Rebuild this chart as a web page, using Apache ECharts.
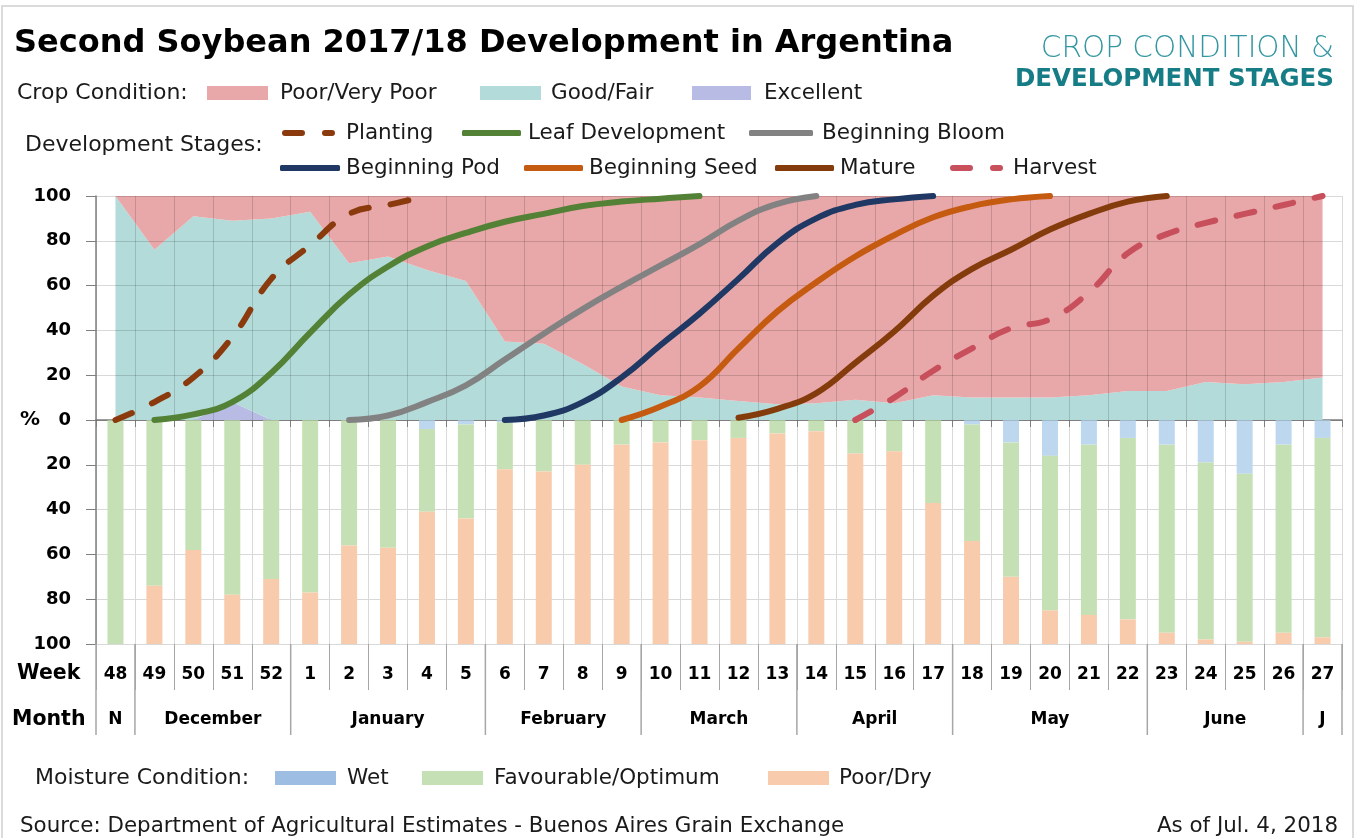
<!DOCTYPE html>
<html><head><meta charset="utf-8">
<script src="https://cdn.jsdelivr.net/npm/echarts@6/dist/echarts.min.js"></script>
<style>html,body{margin:0;padding:0;background:#fff}#c{width:1361px;height:838px}</style>
</head><body><div id="c"></div>
<script>
// ---------------- DATA ----------------
const weeks = ['48','49','50','51','52','1','2','3','4','5','6','7','8','9','10','11','12','13','14','15','16','17','18','19','20','21','22','23','24','25','26','27'];
const monthLabels = ['N','December','January','February','March','April','May','June','J'];
const monthSpans = [1,4,5,4,4,4,5,4,1];

// Crop condition (%), stacked: excellent + good/fair + poor/very poor = 100
const excellent   = [0,0,0,8,0,0,0,0,0,0,0,0,0,0,0,0,0,0,0,0,0,0,0,0,0,0,0,0,0,0,0,0];
const goodFair    = [100,76,91,81,90,93,70,73,67,62,35,34,25,15,11,10,8.5,7,7.5,9,7.5,11,10,10,10,11,13,13,17,16,17,19];
const poorVeryPoor= [0,24,9,11,10,7,30,27,33,38,65,66,75,85,89,90,91.5,93,92.5,91,92.5,89,90,90,90,89,87,87,83,84,83,81];

// Development stages (% cumulative)
const N = null;
const planting  = [0,8,19,37,63,78,92,96,100,N,N,N,N,N,N,N,N,N,N,N,N,N,N,N,N,N,N,N,N,N,N,N];
const leafDev   = [N,0,2.5,8,21,39,56,68.5,77.5,83.5,88.5,92,95.5,97.5,98.8,100,N,N,N,N,N,N,N,N,N,N,N,N,N,N,N,N];
const begBloom  = [N,N,N,N,N,N,0,2,8,15.5,27,38.5,49.5,59.5,69,78.5,89,96.5,100,N,N,N,N,N,N,N,N,N,N,N,N,N];
const begPod    = [N,N,N,N,N,N,N,N,N,N,0,2,8,19,33.5,47.5,63,79,90,96,98.5,100,N,N,N,N,N,N,N,N,N,N];
const begSeed   = [N,N,N,N,N,N,N,N,N,N,N,N,N,0,6,15,32,48.5,61.5,73,82.5,90.5,95.5,98.5,100,N,N,N,N,N,N,N];
const mature    = [N,N,N,N,N,N,N,N,N,N,N,N,N,N,N,N,1,5,12,25.5,39.5,55.5,67.5,76,85,92,97.5,100,N,N,N,N];
const harvest   = [N,N,N,N,N,N,N,N,N,N,N,N,N,N,N,N,N,N,N,0,10,22,32,41,45,57,74.5,83,88,92,96,100];

// Moisture condition (%)
const wet       = [0,0,0,0,0,0,0,0,4,2,1,0,0,0,0,0,0,0,0,0,0,0,2,10,16,11,8,11,19,24,11,8];
const favOpt    = [100,74,58,78,71,77,56,57,37,42,21,23,20,11,10,9,8,6,5,15,14,37,52,60,69,76,81,84,79,75,84,89];
const poorDry   = [0,26,42,22,29,23,44,43,59,56,78,77,80,89,90,91,92,94,95,85,86,63,46,30,15,13,11,5,2,1,5,3];

// ---------------- CHART ----------------
const FONT = 'DejaVu Sans';
const TXT = '#1a1a1a';
const chart = echarts.init(document.getElementById('c'), null, {renderer:'canvas'});

const DASH_ICON = 'path://M3,0H20A3,3 0 0 1 20,6H3A3,3 0 0 1 3,0Z M43,0H50A3,3 0 0 1 50,6H43A3,3 0 0 1 43,0Z';

function lg(name, left, top, w, pad, icon, h, extra) {
  return {
    data:[extra ? Object.assign({name:name}, extra) : name],
    left:left, top:top, itemWidth:w, itemHeight:h || 14, padding:0, selectedMode:false,
    icon:icon,
    textStyle:{fontFamily:FONT, fontSize:21.5, color:TXT, padding:[0,0,0,pad]}
  };
}

function areaS(name, data, color) {
  return {name:name, type:'line', xAxisIndex:0, yAxisIndex:0, stack:'crop', data:data,
    symbol:'none', color:color, lineStyle:{width:0}, areaStyle:{color:color, opacity:1}, z:1, silent:true};
}
function devS(name, data, color, dashed) {
  return {name:name, type:'line', xAxisIndex:0, yAxisIndex:0, data:data, symbol:'none',
    smooth:0.45, connectNulls:false, color:color,
    lineStyle:{color:color, width:6, type: dashed ? [18,22] : 'solid', cap:'round', join:'round'}, z:4, silent:true};
}
function barS(name, data, color) {
  return {name:name, type:'bar', xAxisIndex:1, yAxisIndex:1, stack:'moist', data:data,
    barWidth:16, color:color, itemStyle:{color:color}, silent:true};
}

const C = {
  poor:'#E8A7A8', good:'#B3DBD9', exc:'#B8BCE4',
  plant:'#8B3A0E', leaf:'#538135', bloom:'#828282', pod:'#1F3864', seed:'#C55A11', mature:'#843C0C', harv:'#C8505C',
  wet:'#BDD7EE', fav:'#C5E0B4', dry:'#F8CBAD'
};

const option = {
  animation:false,
  backgroundColor:'#fff',
  grid:[
    {left:96, right:19, top:196, height:224},
    {left:96, right:19, top:420, height:224}
  ],
  xAxis:[
    {gridIndex:0, type:'category', data:weeks, boundaryGap:true, z:3,
      axisLine:{show:false}, axisTick:{show:false}, axisLabel:{show:false},
      splitLine:{show:true, interval:0, lineStyle:{color:'rgba(0,0,0,0.15)', width:1}}},
    {gridIndex:1, type:'category', data:weeks, position:'top', boundaryGap:true,
      axisLine:{show:true, lineStyle:{color:'#7f7f7f', width:1.5}},
      axisTick:{show:true, inside:true, length:7, interval:0, lineStyle:{color:'#7f7f7f'}},
      axisLabel:{show:false},
      splitLine:{show:true, interval:0, lineStyle:{color:'#d9d9d9', width:1}}},
    {gridIndex:1, type:'category', data:weeks, position:'bottom', boundaryGap:true,
      axisLine:{show:false},
      axisTick:{show:true, length:46, interval:0, lineStyle:{color:'#a6a6a6'}},
      axisLabel:{show:true, interval:0, margin:22, fontFamily:FONT, fontWeight:'bold', fontSize:17, color:'#000'},
      splitLine:{show:false}}
  ],
  yAxis:[
    {gridIndex:0, type:'value', min:0, max:100, interval:20, z:3,
      axisLine:{show:true, lineStyle:{color:'#7f7f7f', width:1.5}},
      axisTick:{show:true, length:10, lineStyle:{color:'#7f7f7f'}},
      axisLabel:{margin:25, fontFamily:FONT, fontWeight:'bold', fontSize:18, color:'#000'},
      splitLine:{show:true, lineStyle:{color:'rgba(0,0,0,0.15)', width:1}}},
    {gridIndex:1, type:'value', min:0, max:100, interval:20, inverse:true,
      axisLine:{show:true, lineStyle:{color:'#7f7f7f', width:1.5}},
      axisTick:{show:true, length:10, lineStyle:{color:'#7f7f7f'}},
      axisLabel:{margin:25, fontFamily:FONT, fontWeight:'bold', fontSize:18, color:'#000',
        formatter:function(v){ return v === 0 ? '' : String(v); }},
      splitLine:{show:true, lineStyle:{color:'#d9d9d9', width:1}}}
  ],
  legend:[
    lg('Poor/Very Poor', 207, 82, 61, 7, 'rect'),
    lg('Good/Fair', 480, 82, 61, 5, 'rect'),
    lg('Excellent', 692, 82, 59, 8, 'rect'),
    lg('Planting', 282, 122, 53, 6, DASH_ICON, 6),
    lg('Leaf Development', 462, 122, 59, 2, 'roundRect', 6),
    lg('Beginning Bloom', 749, 122, 64, 4, 'roundRect', 6),
    lg('Beginning Pod', 280, 157, 60, 1, 'roundRect', 6),
    lg('Beginning Seed', 524, 157, 59, 1, 'roundRect', 6),
    lg('Mature', 775, 157, 59, 1, 'roundRect', 6),
    lg('Harvest', 950, 157, 53, 5, DASH_ICON, 6),
    lg('Wet', 275, 767, 61, 6, 'rect', 14, {itemStyle:{color:'#9DBDE2'}}),
    lg('Favourable/Optimum', 422, 767, 61, 6, 'rect'),
    lg('Poor/Dry', 768, 767, 61, 5, 'rect')
  ],
  series:[
    areaS('Excellent', excellent, C.exc),
    areaS('Good/Fair', goodFair, C.good),
    areaS('Poor/Very Poor', poorVeryPoor, C.poor),
    devS('Planting', planting, C.plant, true),
    devS('Leaf Development', leafDev, C.leaf),
    devS('Beginning Bloom', begBloom, C.bloom),
    devS('Beginning Pod', begPod, C.pod),
    devS('Beginning Seed', begSeed, C.seed),
    devS('Mature', mature, C.mature),
    devS('Harvest', harvest, C.harv, true),
    barS('Wet', wet, C.wet),
    barS('Favourable/Optimum', favOpt, C.fav),
    barS('Poor/Dry', poorDry, C.dry)
  ]
};
chart.setOption(option);

// ---------- static texts & month row (positions from the axis scale) ----------
function txt(t, x, y, font, fill, align) {
  return {type:'text', x:x, y:y, silent:true, z:10,
    style:{text:t, font:font, fill:fill || TXT, align:align || 'left', verticalAlign:'middle'}};
}
const g = [];
g.push({type:'rect', silent:true, z:0, shape:{x:2, y:6, width:1351, height:845},
  style:{fill:'none', stroke:'#d0d0d0', lineWidth:1.5}});
g.push(txt('Second Soybean 2017/18 Development in Argentina', 14, 44, 'bold 32px "DejaVu Sans"', '#000'));
g.push(txt('CROP CONDITION &', 1334, 49, '200 29.5px "DejaVu Sans"', '#3597A2', 'right'));
g.push(txt('DEVELOPMENT STAGES', 1334, 80, 'bold 24.5px "DejaVu Sans"', '#167C85', 'right'));
g.push(txt('Crop Condition:', 17, 93, '22px "DejaVu Sans"'));
g.push(txt('Development Stages:', 25, 145, '22px "DejaVu Sans"'));
g.push(txt('Moisture Condition:', 35, 778, '22px "DejaVu Sans"'));
g.push(txt('Source: Department of Agricultural Estimates - Buenos Aires Grain Exchange', 20, 826, '21.4px "DejaVu Sans"'));
g.push(txt('As of Jul. 4, 2018', 1338, 826, '21.4px "DejaVu Sans"', TXT, 'right'));
g.push(txt('%', 20, 420, 'bold 20px "DejaVu Sans"', '#000'));
g.push(txt('Week', 17, 674, 'bold 20.5px "DejaVu Sans"', '#000'));
g.push(txt('Month', 12, 720, 'bold 20.5px "DejaVu Sans"', '#000'));

const c0 = chart.convertToPixel({xAxisIndex:2}, weeks[0]);
const c1 = chart.convertToPixel({xAxisIndex:2}, weeks[1]);
const band = c1 - c0;
const yBottom = chart.convertToPixel({yAxisIndex:1}, 100);
let idx = 0;
const bounds = [c0 - band/2];
monthLabels.forEach(function(m, k){
  const first = idx, last = idx + monthSpans[k] - 1;
  const xl = chart.convertToPixel({xAxisIndex:2}, weeks[first]) - band/2;
  const xr = chart.convertToPixel({xAxisIndex:2}, weeks[last]) + band/2;
  bounds.push(xr);
  g.push(txt(m, (xl + xr)/2, 720, 'bold 17px "DejaVu Sans"', '#000', 'center'));
  idx = last + 1;
});
bounds.forEach(function(x){
  g.push({type:'line', silent:true, z:5, shape:{x1:x, y1:yBottom, x2:x, y2:yBottom + 91},
    style:{stroke:'#a6a6a6', lineWidth:1.5}});
});
chart.setOption({graphic:g});
</script>
</body></html>
